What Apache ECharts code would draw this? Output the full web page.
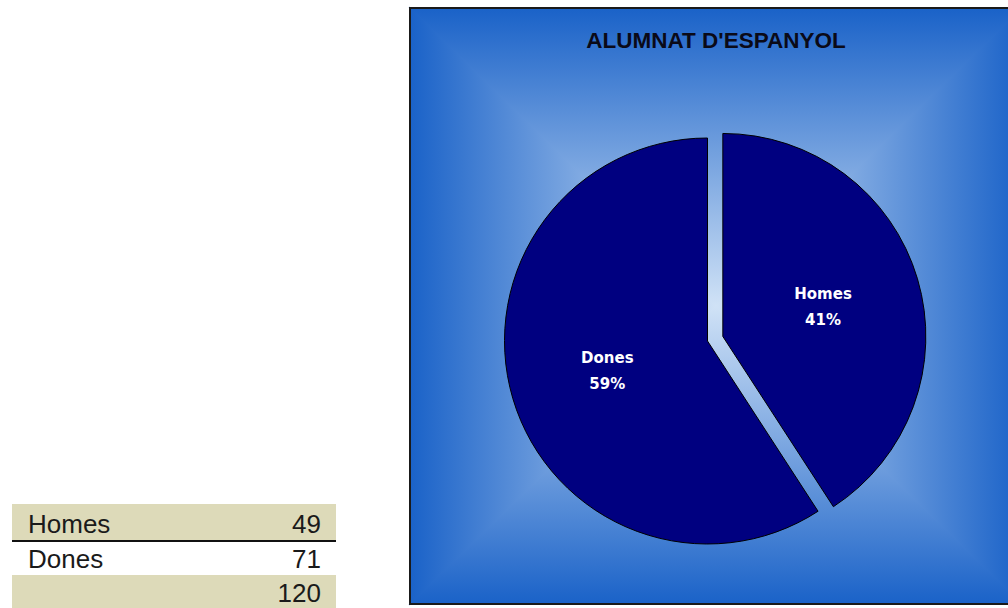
<!DOCTYPE html>
<html>
<head>
<meta charset="utf-8">
<script src="https://cdn.jsdelivr.net/npm/echarts@6/dist/echarts.min.js"></script>
<style>
html,body{margin:0;padding:0;background:#fff;}
#chart{width:1008px;height:608px;}
</style>
</head>
<body>
<div id="chart"></div>
<script>
// ---- data ----
const categories = ['Homes', 'Dones'];
const values = [49, 71];
const totalLabel = ['', 120];
const chartTitle = "ALUMNAT D'ESPANYOL";

// ---- layout / style ----
const box = {x: 410, y: 8, w: 612, h: 596};
const edgeColor = '#1a62c8';
const centerColor = '#d0e2f6';
const cx = box.x + box.w / 2, cy = box.y + box.h / 2;

function lg(x, y, x2, y2) {
  return {type: 'linear', x: x, y: y, x2: x2, y2: y2,
    colorStops: [{offset: 0, color: edgeColor}, {offset: 1, color: centerColor}]};
}
const TL = [box.x, box.y], TR = [box.x + box.w, box.y],
      BL = [box.x, box.y + box.h], BR = [box.x + box.w, box.y + box.h], C = [cx, cy];

function tri(points, g) {
  return {type: 'polygon', z: -10, silent: true, shape: {points: points},
    style: {fill: g, stroke: g, lineWidth: 1.2}};
}
const graphics = [
  {type: 'rect', z: -11, silent: true, shape: {x: box.x, y: box.y, width: box.w, height: box.h},
    style: {fill: '#6f9ade'}},
  tri([TL, TR, C], lg(0, 0, 0, 1)),
  tri([BL, BR, C], lg(0, 1, 0, 0)),
  tri([TL, BL, C], lg(0, 0, 1, 0)),
  tri([TR, BR, C], lg(1, 0, 0, 0)),
  {type: 'rect', z: -9, silent: true, shape: {x: box.x, y: box.y, width: box.w, height: box.h},
    style: {fill: 'none', stroke: '#1a1a1a', lineWidth: 2}}
];

// ---- table (left) ----
const rows = [
  {label: categories[0], val: values[0], y0: 504, y1: 541, bg: '#dddab9'},
  {label: categories[1], val: values[1], y0: 541, y1: 575, bg: null},
  {label: totalLabel[0], val: totalLabel[1], y0: 575, y1: 608, bg: '#dddab9'}
];
rows.forEach(function (r) {
  if (r.bg) {
    graphics.push({type: 'rect', silent: true, shape: {x: 12, y: r.y0, width: 324, height: r.y1 - r.y0},
      style: {fill: r.bg}});
  }
  const my = (r.y0 + r.y1) / 2 + 1;
  graphics.push({type: 'text', silent: true, style: {text: r.label, x: 28, y: my,
    fontSize: 26, fontFamily: 'Liberation Sans, Arial', fill: '#1a1a1a', align: 'left', verticalAlign: 'middle'}});
  graphics.push({type: 'text', silent: true, style: {text: String(r.val), x: 321, y: my,
    fontSize: 26, fontFamily: 'Liberation Sans, Arial', fill: '#1a1a1a', align: 'right', verticalAlign: 'middle'}});
});
graphics.push({type: 'line', silent: true, shape: {x1: 12, y1: 541, x2: 336, y2: 541},
  style: {stroke: '#111', lineWidth: 2}});

const chart = echarts.init(document.getElementById('chart'), null, {renderer: 'svg'});
chart.setOption({
  animation: false,
  title: {
    text: chartTitle, left: 716, top: 29, textAlign: 'center', padding: 0,
    textStyle: {fontSize: 22.5, fontWeight: 'bold', color: '#0a0a18', fontFamily: 'Liberation Sans, Arial'}
  },
  graphic: graphics,
  series: [{
    type: 'pie',
    center: [707.5, 341],
    radius: 203,
    startAngle: 90,
    clockwise: true,
    selectedMode: 'multiple',
    selectedOffset: 16,
    silent: true,
    emphasis: {disabled: true},
    itemStyle: {color: '#000080', borderColor: '#000000', borderWidth: 1},
    label: {
      show: true, position: 'inside',
      formatter: function (p) { return p.name + '\n' + Math.round(p.percent) + '%'; },
      color: '#ffffff', fontSize: 15, fontWeight: 'bold', fontFamily: 'DejaVu Sans',
      lineHeight: 26
    },
    labelLine: {show: false},
    data: categories.map(function (c, i) {
      return {name: c, value: values[i], selected: i === 0};
    })
  }]
});
</script>
</body>
</html>
